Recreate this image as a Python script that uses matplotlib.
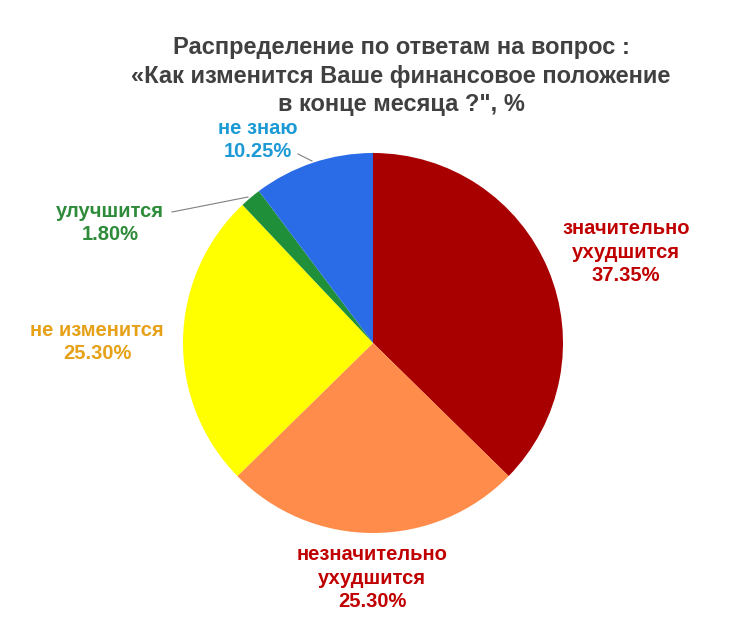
import matplotlib.pyplot as plt

labels = ["значительно\nухудшится", "незначительно\nухудшится", "не изменится", "улучшится", "не знаю"]
values = [37.35, 25.30, 25.30, 1.80, 10.25]
slice_colors = ["#A80000", "#FF8C4A", "#FFFF00", "#1F8F3A", "#2A6BE8"]
text_colors = ["#C00000", "#C00000", "#E6A118", "#2E8B3A", "#1C9AD6"]

plt.rcParams['font.family'] = ['Liberation Sans', 'DejaVu Sans']

W, H = 730, 632
fig = plt.figure(figsize=(W / 100, H / 100), dpi=100)
ax = fig.add_axes([0, 0, 1, 1])

cx, cy, r = 373, H - 343, 190
ax.pie(values, colors=slice_colors, startangle=90, counterclock=False,
       center=(cx, cy), radius=r, frame=True,
       wedgeprops=dict(linewidth=0))
ax.set_xlim(0, W)
ax.set_ylim(0, H)
ax.set_aspect('equal')
ax.axis('off')

ax.text(401, H - 76,
        "Распределение по ответам на вопрос :\n«Как изменится Ваше финансовое положение\nв конце месяца ?\", %",
        ha='center', va='center', fontsize=17, fontweight='bold', color='#404040',
        linespacing=1.33)

# label centres in pixel coordinates (x, y from top)
pos = [(626, 252), (372, 578), (97, 342), (110, 223), (258, 140)]
for lab, v, c, (x, y) in zip(labels, values, text_colors, pos):
    ax.text(x, H - y, f"{lab}\n{v:.2f}%", ha='center', va='center',
            fontsize=14.5, fontweight='bold', color=c, linespacing=1.33)

# leader lines
ax.plot([172, 248], [H - 212, H - 197], color='#808080', lw=0.8)
ax.plot([298, 312], [H - 154, H - 161], color='#808080', lw=0.8)

fig.savefig("out.png", dpi=100)
